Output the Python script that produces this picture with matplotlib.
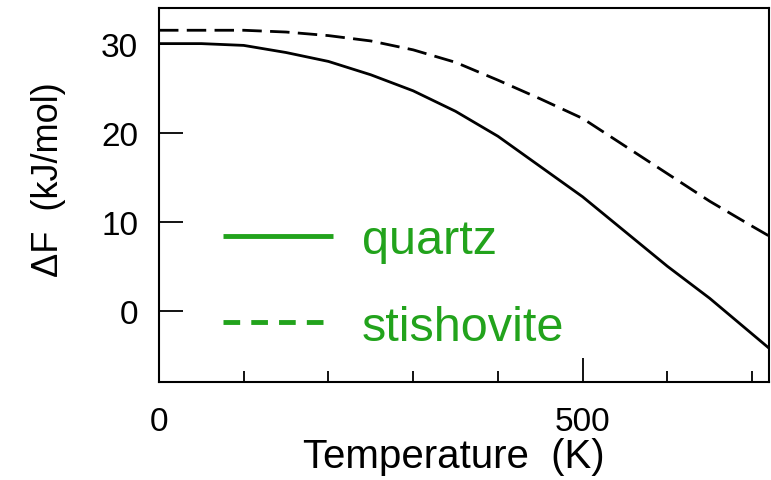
import numpy as np
import matplotlib
matplotlib.use("Agg")
import matplotlib.pyplot as plt
from matplotlib.lines import Line2D

# values
temperature = [0, 50, 100, 150, 200, 250, 300, 350, 400, 450, 500, 550, 600, 650, 700, 720]
quartz_dF = [30.0, 30.0, 29.8, 29.0, 28.0, 26.5, 24.7, 22.4, 19.6, 16.2, 12.8, 8.9, 5.0, 1.4, -2.6, -4.2]
stishovite_dF = [31.5, 31.5, 31.5, 31.3, 30.9, 30.3, 29.3, 27.9, 25.9, 23.8, 21.6, 18.5, 15.4, 12.3, 9.5, 8.4]
series_names = ["quartz", "stishovite"]
x_major = [0, 500]
x_minor = [100, 200, 300, 400, 600, 700]
y_major = [0, 10, 20, 30]

plt.rcParams['font.family'] = ['Liberation Sans', 'DejaVu Sans']
plt.rcParams['lines.scale_dashes'] = False

green = '#22a31c'

fig = plt.figure(figsize=(7.71, 4.81), dpi=100)
ax = fig.add_axes([159/771, 1 - 383/481, 610/771, 374/481])

ax.plot(temperature, quartz_dF, color='black', lw=2.0, solid_joinstyle='round')
ax.plot(temperature, stishovite_dF, color='black', lw=2.0, dashes=(14, 6))

ax.set_xlim(0, 720)
ax.set_ylim(-8, 34)
ax.set_xticks(x_major)
ax.set_xticks(x_minor, minor=True)
ax.set_yticks(y_major)

ax.tick_params(which='both', direction='in', width=1.3, labelsize=24)
ax.tick_params(axis='x', which='major', length=17, pad=17)
ax.tick_params(axis='x', which='minor', length=8)
ax.tick_params(axis='y', which='major', length=17, pad=15)
for s in ax.spines.values():
    s.set_linewidth(1.5)

ax.set_xlabel('Temperature  (K)', fontsize=29)
ax.set_ylabel('ΔF  (kJ/mol)', fontsize=26)
ax.xaxis.set_label_coords(0.484, -0.148)
ax.yaxis.set_label_coords(-0.152, 0.543)

handles = [Line2D([], [], color=green, lw=3.5, solid_capstyle='butt'),
           Line2D([], [], color=green, lw=3.5, dashes=(12, 8))]
leg = ax.legend(handles, series_names, loc='upper left', bbox_to_anchor=(0.073, 0.49),
                frameon=False, fontsize=35, labelcolor=green, handlelength=2.26,
                handletextpad=0.6, labelspacing=0.85, borderaxespad=0)

fig.savefig('out.png', dpi=100)
